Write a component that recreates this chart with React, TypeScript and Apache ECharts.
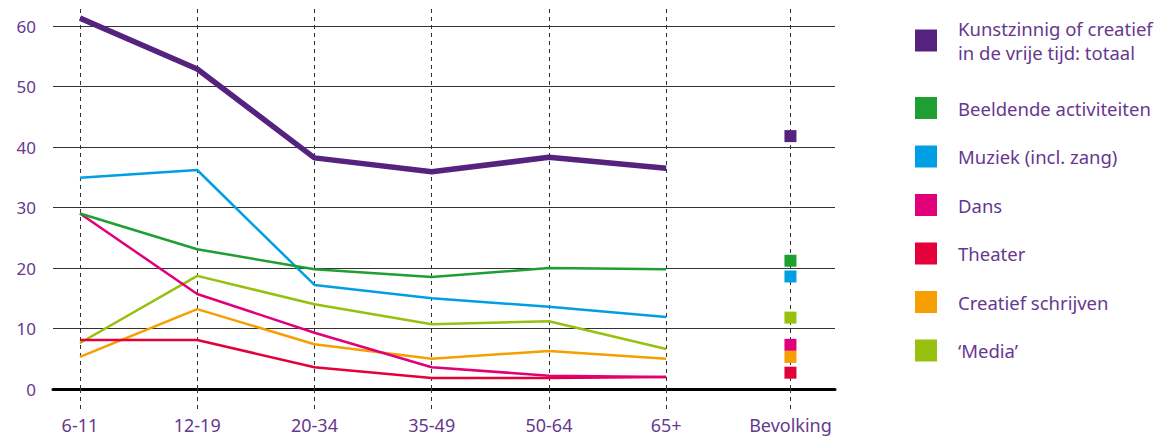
import React, { useEffect, useRef } from "react";
import * as echarts from "echarts";

const ageGroups = ["6-11", "12-19", "20-34", "35-49", "50-64", "65+"];
const populationLabel = "Bevolking";
const populationPos = 6.06; // axis position of the Bevolking column (slightly wider gap)

const seriesNames = [
  "Kunstzinnig of creatief in de vrije tijd: totaal",
  "Beeldende activiteiten",
  "Muziek (incl. zang)",
  "Dans",
  "Theater",
  "Creatief schrijven",
  "\u2018Media\u2019",
];
const colors = ["#55237f", "#1f9f32", "#009fe3", "#e2007a", "#e4003a", "#f5a000", "#97c00f"];

const totaal = [61.3, 52.9, 38.2, 35.9, 38.3, 36.5];
const beeldend = [29.0, 23.1, 19.8, 18.5, 20.0, 19.8];
const muziek = [34.9, 36.2, 17.2, 15.0, 13.6, 11.9];
const dans = [29.0, 15.7, 9.3, 3.6, 2.2, 2.0];
const theater = [8.1, 8.1, 3.6, 1.8, 1.8, 2.0];
const schrijven = [5.3, 13.2, 7.4, 5.0, 6.3, 5.0];
const media = [7.6, 18.7, 14.0, 10.7, 11.2, 6.6];
const bevolking = [41.8, 21.2, 18.6, 7.3, 2.7, 5.3, 11.8];

const allSeries = [totaal, beeldend, muziek, dans, theater, schrijven, media];
const yTicks = [0, 10, 20, 30, 40, 50, 60];

const textColor = "#66388f";
const font = "Noto Sans";

export default function App() {
  const ref = useRef<HTMLDivElement>(null);
  useEffect(() => {
    const chart = echarts.init(ref.current!, undefined, { renderer: "svg" });
    const tickPositions = [...ageGroups.map((_, i) => i), populationPos];
    const tickLabels = [...ageGroups, populationLabel];
    const lineSeries = allSeries.map((vals, s) => ({
      type: "line",
      name: seriesNames[s],
      data: vals.map((v, i) => [i, v]),
      showSymbol: false,
      symbol: "none",
      clip: false,
      z: 10 - s + (s === 0 ? 10 : 0),
      lineStyle: { color: colors[s], width: s === 0 ? 5.5 : 2.5, join: "round" },
      itemStyle: { color: colors[s] },
    }));
    const popSeries = bevolking.map((v, s) => ({
      type: "scatter",
      name: seriesNames[s],
      data: [[populationPos, v]],
      symbol: "rect",
      symbolSize: 12,
      z: 20,
      itemStyle: { color: colors[s], opacity: 1 },
    }));
    chart.setOption({
      animation: false,
      textStyle: { fontFamily: font },
      grid: { left: 53, right: 325, top: 26, bottom: 48, containLabel: false },
      legend: {
        orient: "vertical",
        left: 915,
        top: 9.5,
        padding: 0,
        itemWidth: 22,
        itemHeight: 22,
        itemGap: 24.5,
        icon: "rect",
        selectedMode: false,
        data: seriesNames.map((n, i) =>
          i === 0
            ? { name: n, textStyle: { padding: [14, 0, 0, 16] } }
            : { name: n }
        ),
        formatter: (name: string) =>
          name === seriesNames[0] ? "Kunstzinnig of creatief\nin de vrije tijd: totaal" : name,
        textStyle: {
          color: textColor,
          fontSize: 18.5,
          fontFamily: font,
          lineHeight: 24,
          padding: [0, 0, 0, 16],
        },
      },
      xAxis: [
        {
          type: "value",
          min: -0.23,
          max: 6.44,
          position: "bottom",
          axisLine: { show: true, onZero: false, lineStyle: { color: "#000", width: 3 } },
          axisTick: {
            show: true,
            customValues: tickPositions,
            length: 20,
            lineStyle: { color: "#333", type: [4, 4], width: 1 },
          },
          axisLabel: {
            show: true,
            customValues: tickPositions,
            formatter: (v: number) => {
              const idx = tickPositions.findIndex((p) => Math.abs(p - v) < 1e-6);
              return idx >= 0 ? tickLabels[idx] : "";
            },
            color: textColor,
            fontSize: 18,
            fontFamily: font,
            margin: 27,
          },
          splitLine: { show: false },
        },
        {
          type: "value",
          min: -0.23,
          max: 6.44,
          position: "bottom",
          axisLine: { show: false },
          axisTick: {
            show: true,
            inside: true,
            customValues: tickPositions,
            length: 383,
            lineStyle: { color: "#333", type: [4, 4], width: 1 },
          },
          axisLabel: { show: false },
          splitLine: { show: false },
        },
      ],
      yAxis: {
        type: "value",
        min: yTicks[0],
        max: yTicks[yTicks.length - 1],
        interval: 10,
        axisLine: { show: false },
        axisTick: { show: false },
        axisLabel: { color: textColor, fontSize: 17, fontFamily: font, margin: 17 },
        splitLine: { show: true, lineStyle: { color: "#333", width: 1.2 } },
      },
      series: [...lineSeries, ...popSeries],
    });
    return () => chart.dispose();
  }, []);
  return <div ref={ref} style={{ width: 1160, height: 437, position: "absolute", left: 0, top: 0 }} />;
}
